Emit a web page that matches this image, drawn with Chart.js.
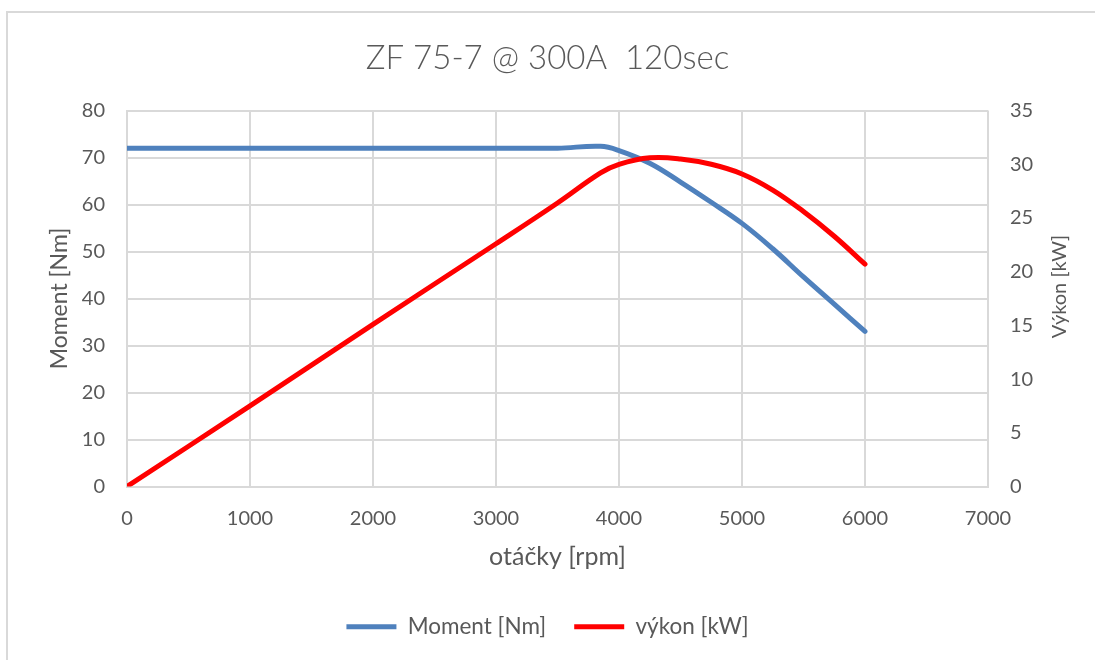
<!DOCTYPE html>
<html>
<head>
<meta charset="utf-8">
<script src="https://cdn.jsdelivr.net/npm/chart.js@4.4.1/dist/chart.umd.min.js"></script>
<style>
  html, body { margin: 0; padding: 0; background: #fff; }
  #wrap { width: 1095px; height: 660px; }
</style>
</head>
<body>
<div id="wrap"><canvas id="chart" width="1095" height="660"></canvas></div>
<script>
// otáčky [rpm]
const rpm = [0, 1000, 2000, 3000, 3500, 3850, 4000, 4250, 4500, 4750, 5000, 5250, 5500, 5750, 6000];
// Moment [Nm]
const moment = [72, 72, 72, 72, 72, 72.4, 71.5, 68.8, 64.8, 60.5, 56, 50.6, 44.6, 38.8, 33];
// výkon [kW]
const vykon = [0, 7.5, 15.1, 22.6, 26.4, 29.2, 30.0, 30.6, 30.5, 30.0, 29.1, 27.6, 25.6, 23.3, 20.7];

const xRange = [0, 7000, 1000];
const leftRange = [0, 80, 10];
const rightRange = [0, 35, 5];

const textColor = '#595959';
const gridColor = '#D9D9D9';
Chart.defaults.font.family = 'Lato, "Open Sans", sans-serif';
Chart.defaults.color = textColor;

// frame around the chart + right axis title (reads bottom to top)
const frame = {
  id: 'frame',
  beforeDraw(chart) {
    const c = chart.ctx;
    c.save();
    c.fillStyle = '#fff';
    c.fillRect(0, 0, chart.width, chart.height);
    c.strokeStyle = gridColor;
    c.lineWidth = 2;
    c.beginPath();
    c.moveTo(7, chart.height);
    c.lineTo(7, 12);
    c.lineTo(chart.width, 12);
    c.stroke();
    c.restore();
  },
  afterDraw(chart) {
    const s = chart.scales.y1;
    const a = chart.chartArea;
    const c = chart.ctx;
    c.save();
    c.translate(s.left + 72, (a.top + a.bottom) / 2 - 12);
    c.rotate(-Math.PI / 2);
    c.font = '20px Lato, "Open Sans", sans-serif';
    c.fillStyle = textColor;
    c.textAlign = 'center';
    c.textBaseline = 'middle';
    c.fillText('Výkon [kW]', 0, 0);
    c.restore();
  }
};

const plain = { useGrouping: false };

new Chart(document.getElementById('chart'), {
  type: 'line',
  data: {
    datasets: [
      {
        label: 'Moment [Nm]',
        data: rpm.map((x, i) => ({ x: x, y: moment[i] })),
        borderColor: '#4F81BD',
        backgroundColor: '#4F81BD',
        borderWidth: 5,
        borderCapStyle: 'round',
        borderJoinStyle: 'round',
        pointRadius: 0,
        tension: 0.4,
        yAxisID: 'y',
        order: 1
      },
      {
        label: 'výkon [kW]',
        data: rpm.map((x, i) => ({ x: x, y: vykon[i] })),
        borderColor: '#FF0000',
        backgroundColor: '#FF0000',
        borderWidth: 5,
        borderCapStyle: 'round',
        borderJoinStyle: 'round',
        pointRadius: 0,
        tension: 0.4,
        yAxisID: 'y1',
        order: 0
      }
    ]
  },
  options: {
    responsive: false,
    animation: false,
    events: [],
    layout: { padding: { left: 0, right: 0, top: 0, bottom: 12 } },
    scales: {
      x: {
        type: 'linear',
        min: xRange[0], max: xRange[1],
        afterFit: s => { s.height = 101; },
        ticks: { stepSize: xRange[2], padding: 20, font: { size: 20 }, maxRotation: 0, format: plain },
        grid: { color: gridColor, lineWidth: 2, drawTicks: false },
        border: { color: gridColor, width: 2 },
        title: { display: true, text: 'otáčky [rpm]', font: { size: 25 }, padding: { bottom: 16 } }
      },
      y: {
        position: 'left',
        min: leftRange[0], max: leftRange[1],
        afterFit: s => { s.width = 127; },
        ticks: { stepSize: leftRange[2], padding: 22, font: { size: 20 }, format: plain },
        grid: { color: gridColor, lineWidth: 2, drawTicks: false },
        border: { color: gridColor, width: 2 },
        title: { display: true, text: 'Moment [Nm]', font: { size: 23 }, padding: { top: 46 } }
      },
      y1: {
        position: 'right',
        min: rightRange[0], max: rightRange[1],
        afterFit: s => { s.width = 107; },
        ticks: { stepSize: rightRange[2], padding: 22, font: { size: 20 }, format: plain },
        grid: { display: false, drawTicks: false },
        border: { display: false }
      }
    },
    plugins: {
      title: {
        display: true,
        text: 'ZF 75-7 @ 300A  120sec',
        color: textColor,
        font: { size: 33, weight: '300' },
        padding: { top: 39, bottom: 32 }
      },
      legend: {
        position: 'bottom',
        labels: {
          usePointStyle: true,
          pointStyle: 'line',
          pointStyleWidth: 50,
          font: { size: 22.5 },
          color: textColor,
          padding: 28,
          sort: (a, b) => a.datasetIndex - b.datasetIndex
        }
      },
      tooltip: { enabled: false }
    }
  },
  plugins: [frame]
});
</script>
</body>
</html>
